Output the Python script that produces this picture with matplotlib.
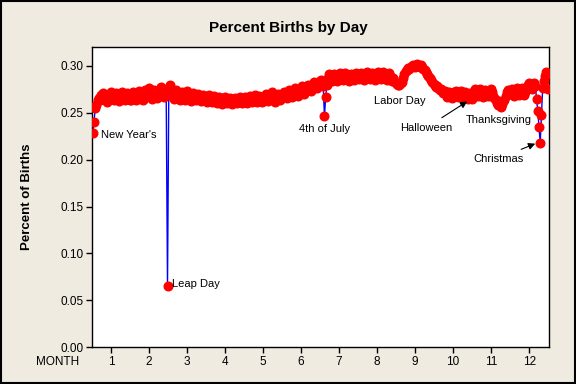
import matplotlib
matplotlib.use("Agg")
import matplotlib.pyplot as plt
from matplotlib.patches import Rectangle

# percent of births for each calendar day
jan = [0.228, 0.240, 0.255, 0.258, 0.263, 0.266, 0.263, 0.269, 0.271, 0.265, 0.263,
       0.268, 0.261, 0.265, 0.270, 0.272, 0.267, 0.263, 0.266, 0.271, 0.267, 0.262,
       0.265, 0.269, 0.272, 0.266, 0.263, 0.267, 0.271, 0.268, 0.264]
feb = [0.263, 0.268, 0.272, 0.267, 0.264, 0.268, 0.273, 0.270, 0.265, 0.263, 0.269,
       0.274, 0.268, 0.271, 0.276, 0.270, 0.265, 0.269, 0.274, 0.271, 0.266, 0.270,
       0.275, 0.277, 0.271, 0.267, 0.273, 0.270, 0.065]
mar = [0.270, 0.279, 0.273, 0.268, 0.265, 0.270, 0.274, 0.270, 0.266, 0.263, 0.268,
       0.272, 0.267, 0.264, 0.269, 0.273, 0.268, 0.264, 0.262, 0.267, 0.271, 0.266,
       0.263, 0.267, 0.270, 0.266, 0.262, 0.265, 0.269, 0.266, 0.263]
apr = [0.261, 0.265, 0.269, 0.264, 0.261, 0.265, 0.268, 0.263, 0.260, 0.264, 0.267,
       0.263, 0.259, 0.263, 0.267, 0.264, 0.260, 0.263, 0.266, 0.262, 0.259, 0.263,
       0.266, 0.262, 0.260, 0.264, 0.267, 0.263, 0.260, 0.264]
may = [0.267, 0.263, 0.260, 0.264, 0.268, 0.264, 0.261, 0.265, 0.269, 0.265, 0.261,
       0.264, 0.268, 0.265, 0.261, 0.264, 0.268, 0.270, 0.266, 0.262, 0.266, 0.270,
       0.272, 0.267, 0.263, 0.261, 0.266, 0.270, 0.267, 0.264, 0.268]
jun = [0.268, 0.272, 0.269, 0.266, 0.270, 0.274, 0.271, 0.267, 0.270, 0.274, 0.276,
       0.272, 0.268, 0.272, 0.276, 0.278, 0.274, 0.270, 0.274, 0.278, 0.280, 0.276,
       0.273, 0.277, 0.281, 0.283, 0.279, 0.276, 0.280, 0.284]
jul = [0.285, 0.283, 0.278, 0.246, 0.267, 0.280, 0.287, 0.291, 0.288, 0.284, 0.287,
       0.291, 0.288, 0.284, 0.287, 0.291, 0.292, 0.288, 0.285, 0.288, 0.292, 0.289,
       0.285, 0.284, 0.288, 0.291, 0.288, 0.285, 0.288, 0.292, 0.289]
aug = [0.286, 0.289, 0.292, 0.288, 0.285, 0.288, 0.291, 0.293, 0.289, 0.286, 0.289,
       0.292, 0.288, 0.285, 0.288, 0.292, 0.293, 0.290, 0.286, 0.289, 0.293, 0.290,
       0.287, 0.285, 0.289, 0.292, 0.288, 0.284, 0.287, 0.284, 0.282]
sep = [0.281, 0.279, 0.280, 0.282, 0.283, 0.287, 0.291, 0.294, 0.296, 0.298, 0.297,
       0.299, 0.300, 0.301, 0.299, 0.301, 0.302, 0.300, 0.299, 0.301, 0.299, 0.297,
       0.295, 0.293, 0.291, 0.289, 0.287, 0.285, 0.283, 0.281]
oct_ = [0.280, 0.277, 0.278, 0.276, 0.274, 0.275, 0.273, 0.271, 0.273, 0.270, 0.267,
        0.270, 0.272, 0.268, 0.266, 0.269, 0.272, 0.273, 0.269, 0.267, 0.270, 0.273,
        0.269, 0.266, 0.269, 0.272, 0.268, 0.265, 0.268, 0.271, 0.265]
nov = [0.269, 0.272, 0.275, 0.271, 0.268, 0.272, 0.275, 0.271, 0.267, 0.270, 0.274,
       0.271, 0.268, 0.271, 0.275, 0.272, 0.268, 0.266, 0.263, 0.260, 0.258, 0.262,
       0.256, 0.259, 0.262, 0.264, 0.268, 0.272, 0.274, 0.270]
dec = [0.272, 0.275, 0.271, 0.268, 0.272, 0.276, 0.273, 0.269, 0.272, 0.276, 0.273,
       0.269, 0.272, 0.277, 0.280, 0.282, 0.278, 0.275, 0.279, 0.282, 0.278, 0.265,
       0.252, 0.235, 0.218, 0.248, 0.276, 0.284, 0.289, 0.293, 0.275]

months = [jan, feb, mar, apr, may, jun, jul, aug, sep, oct_, nov, dec]
month_ticks = list(range(1, 13))

# (label, text x, text y, arrow target or None, horizontal alignment)
notes = [
    ("New Year's", 0.73, 0.226, None, "left"),
    ("Leap Day", 2.60, 0.067, None, "left"),
    ("4th of July", 6.62, 0.233, None, "center"),
    ("Labor Day", 8.60, 0.262, None, "center"),
    ("Halloween", 9.29, 0.234, (10.37, 0.262), "center"),
    ("Thanksgiving", 11.21, 0.242, None, "center"),
    ("Christmas", 11.18, 0.201, (12.16, 0.217), "center"),
]

xs, ys = [], []
for m, vals in enumerate(months, start=1):
    n = len(vals)
    for d, v in enumerate(vals, start=1):
        xs.append(m - 0.5 + (d - 0.5) / n)
        ys.append(v)

plt.rcParams["font.family"] = ["Liberation Sans", "DejaVu Sans"]
bg = "#efebe1"

fig = plt.figure(figsize=(5.76, 3.84), dpi=100, facecolor=bg)
ax = fig.add_axes([0.160, 0.0956, 0.793, 0.782])
ax.set_facecolor("white")

ax.plot(xs, ys, color="#0000ff", lw=1.0, zorder=2)
ax.plot(xs, ys, linestyle="none", marker="o", ms=6.2, mfc="#ff0000", mec="#ff0000", zorder=3)

ax.set_xlim(0.5, 12.52)
ax.set_ylim(0, 0.32)
ax.set_xticks(month_ticks)
ax.set_yticks([0.0, 0.05, 0.10, 0.15, 0.20, 0.25, 0.30])
ax.set_yticklabels([f"{t:.2f}" for t in ax.get_yticks()])
ax.tick_params(direction="out", length=4, width=1, labelsize=8.5, color="black", pad=2)
for s in ax.spines.values():
    s.set_linewidth(1.0)

ax.set_ylabel("Percent of Births", fontsize=9.5, fontweight="bold", labelpad=20)
fig.text(0.5, 0.928, "Percent Births by Day", ha="center", va="center",
         fontsize=11, fontweight="bold")
fig.text(0.138, 0.057, "MONTH", ha="right", va="center", fontsize=8.5)

for label, tx, ty, target, ha in notes:
    if target is None:
        ax.text(tx, ty, label, ha=ha, va="center", fontsize=8)
    else:
        ax.annotate(label, xy=target, xytext=(tx, ty), ha=ha, va="center", fontsize=8,
                    arrowprops=dict(arrowstyle="-|>", color="black", lw=0.8,
                                    mutation_scale=10, shrinkA=3, shrinkB=0))

fig.patches.append(Rectangle((0.002, 0.003), 0.996, 0.994, transform=fig.transFigure,
                             fill=False, edgecolor="black", lw=1.5))

fig.savefig("out.png", dpi=100, facecolor=bg)
